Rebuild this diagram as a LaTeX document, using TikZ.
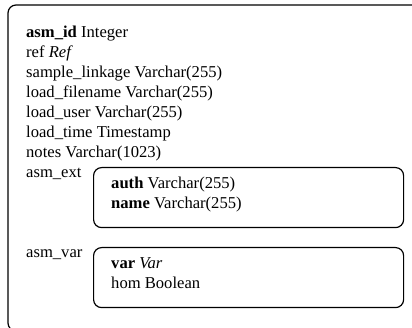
\documentclass[tikz,border=0pt]{standalone}
\usepackage{fontspec}
\setmainfont{Liberation Serif}
\usetikzlibrary{positioning}
\begin{document}
\begin{tikzpicture}[x=1pt,y=-1pt,
   font=\fontsize{16.6}{20}\selectfont,
   every node/.style={inner sep=0pt,anchor=base west},
   tablebox/.style={draw,line width=1.2pt,rounded corners=8pt},
   subtable/.style={tablebox,anchor=north west,minimum width=310pt,minimum height=60pt}]
\useasboundingbox (0,0) rectangle (412,328);
\clip (0,0) rectangle (412,328);
% outer table, cut off at the page edge
\draw[tablebox] (8,5) rectangle (422,331);
\foreach \txt [count=\i] in {{\textbf{asm\_id} Integer},{ref \textit{Ref}},
   {sample\_linkage Varchar(255)},{load\_filename Varchar(255)},
   {load\_user Varchar(255)},{load\_time Timestamp},{notes Varchar(1023)}}
  \node (field\i) at (26,18+20*\i) {\txt};
% nested tables
\node (asmext) at (26,178) {asm\_ext};
\node[subtable] (ext) at (93,167) {};
\node (auth) at ([shift={(18pt,-22pt)}]ext.north west) {\textbf{auth} Varchar(255)};
\node (name) at ([yshift=-20pt]auth.base west) {\textbf{name} Varchar(255)};
\node (asmvar) at (26,258) {asm\_var};
\node[subtable] (var) at (93,247) {};
\node (varfield) at ([shift={(18pt,-22pt)}]var.north west) {\textbf{var} \textit{Var}};
\node (hom) at ([yshift=-20pt]varfield.base west) {hom Boolean};
\end{tikzpicture}
\end{document}
